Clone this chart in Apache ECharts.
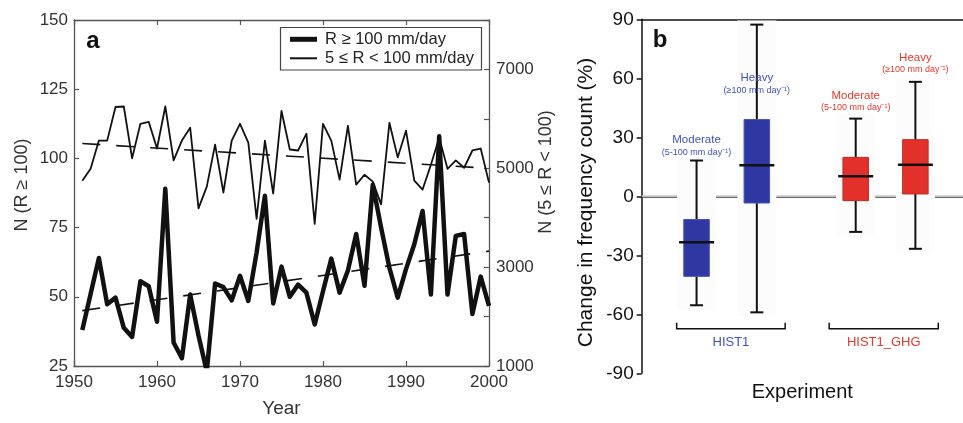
<!DOCTYPE html>
<html><head><meta charset="utf-8">
<script src="https://cdn.jsdelivr.net/npm/echarts@6/dist/echarts.min.js"></script>
<style>html,body{margin:0;padding:0;background:#fff}#c{width:963px;height:423px}</style>
</head><body><div id="c"></div>
<script>
// ---------- Panel a data ----------
const years = [1951,1952,1953,1954,1955,1956,1957,1958,1959,1960,
               1961,1962,1963,1964,1965,1966,1967,1968,1969,1970,
               1971,1972,1973,1974,1975,1976,1977,1978,1979,1980,
               1981,1982,1983,1984,1985,1986,1987,1988,1989,1990,
               1991,1992,1993,1994,1995,1996,1997,1998,1999,2000];
const heavyDays = [38,51,64,47.3,49.7,38.8,35.5,55.6,53.8,41,
                   89,33.5,27.8,50.8,36,23,54.8,53.5,48.7,57.6,
                   48.5,66,86.5,47.6,60.9,50,54.4,51.5,40,52,
                   63.8,51.5,59.5,72.7,54,90.5,75,60.5,49.7,60,
                   69,81,50.8,108,50.8,72,72.7,43.8,57.3,46.7];
const moderateDays = [4750,4990,5560,5560,6240,6250,5200,5900,5940,5400,
                      6250,5160,5560,5820,4190,4630,5480,4510,5560,5900,
                      5520,3975,5560,4490,6160,5380,5360,5700,3875,5900,
                      5560,4770,5860,4670,4870,4730,4270,5920,5220,5760,
                      4750,4570,5070,5620,4990,5160,5010,5360,5400,4710];
const trendYears = [1951, 2000];
const heavyTrend = [45, 66.5];
const moderateTrend = [5500, 5000];
const legendNames = ['R \u2265 100 mm/day', '5 \u2264 R < 100 mm/day'];

// ---------- Panel b data ----------
const boxNames = ['Moderate', 'Heavy', 'Moderate', 'Heavy'];
const boxRanges = ['(5-100 mm day\u207B\u00B9)', '(\u2265100 mm day\u207B\u00B9)', '(5-100 mm day\u207B\u00B9)', '(\u2265100 mm day\u207B\u00B9)'];
const boxGroup = [0, 0, 1, 1];
const boxPos = [0.91, 1.91, 3.55, 4.54];
const boxMin = [-55.4, -59, -18.1, -26.7];
const boxQ1 = [-40.7, -3.4, -2.2, 1.2];
const boxMedian = [-23.4, 15.8, 10.2, 16.1];
const boxQ3 = [-11.8, 39, 19.8, 28.8];
const boxMax = [18.2, 87.3, 39.5, 58.2];
const boxLabelAt = [22.4, 53.9, 45, 64.4];
const experiments = ['HIST1', 'HIST1_GHG'];
const bracketStart = [0.58, 3.11];
const bracketEnd = [2.38, 4.92];
const bracketLevel = [-67.4, -67.4];
const yTicksB = [-90, -60, -30, 0, 30, 60, 90];

// ---------- styles ----------
const FONT = "'Liberation Sans', Arial, Helvetica, sans-serif";
const boxFill = ['#2f37a2', '#e2302a'];
const boxStroke = ['#4450b8', '#c82820'];
const textCol = ['#3f52c2', '#e8372e'];
const GA = '#555';
const XB_MAX = 5.33;

const chart = echarts.init(document.getElementById('c'), null, {renderer: 'canvas'});

function renderBox(params, api) {
  const i = params.dataIndex;
  const g = boxGroup[i];
  const x = api.value(0);
  const c = v => api.coord([x, v]);
  const [cx, yMin] = c(api.value(1));
  const yQ1 = c(api.value(2))[1], yMed = c(api.value(3))[1], yQ3 = c(api.value(4))[1], yMax = c(api.value(5))[1];
  const yLab = c(api.value(6))[1];
  const bw = 25.5, cw = 13, mw = 35, bgw = 39;
  const ln = (x1, y1, x2, y2, w) => ({type: 'line', z2: 3, shape: {x1, y1, x2, y2}, style: {stroke: '#111', lineWidth: w}});
  return {type: 'group', children: [
    {type: 'rect', z2: 1, shape: {x: cx - bgw / 2, y: yMax - 4, width: bgw, height: yMin - yMax + 8}, style: {fill: '#fcfcfc'}},
    ln(cx, yMax, cx, yQ3, 2),
    ln(cx, yQ1, cx, yMin, 2),
    ln(cx - cw / 2, yMax, cx + cw / 2, yMax, 2),
    ln(cx - cw / 2, yMin, cx + cw / 2, yMin, 2),
    {type: 'rect', z2: 4, shape: {x: cx - bw / 2, y: yQ3, width: bw, height: yQ1 - yQ3}, style: {fill: boxFill[g], stroke: boxStroke[g], lineWidth: 1}},
    {type: 'line', z2: 5, shape: {x1: cx - mw / 2, y1: yMed, x2: cx + mw / 2, y2: yMed}, style: {stroke: '#111', lineWidth: 2.5}},
    {type: 'text', z2: 10, style: {text: boxNames[i], x: cx, y: yLab - 12, align: 'center', verticalAlign: 'middle', fill: textCol[g], fontSize: 11.5, fontFamily: FONT}},
    {type: 'text', z2: 10, style: {text: boxRanges[i], x: cx, y: yLab, align: 'center', verticalAlign: 'middle', fill: textCol[g], fontSize: 9, fontFamily: FONT}}
  ]};
}

function renderBracket(params, api) {
  const i = params.dataIndex;
  const [x0, y] = api.coord([api.value(0), api.value(2)]);
  const x1 = api.coord([api.value(1), api.value(2)])[0];
  return {type: 'group', children: [
    {type: 'polyline', shape: {points: [[x0, y - 6], [x0, y], [x1, y], [x1, y - 6]]}, style: {stroke: '#111', lineWidth: 1.5, fill: null}},
    {type: 'text', style: {text: experiments[i], x: (x0 + x1) / 2, y: y + 13.5, align: 'center', verticalAlign: 'middle', fill: textCol[i], fontSize: 13, fontFamily: FONT}}
  ]};
}

const option = {
  animation: false,
  backgroundColor: '#fff',
  textStyle: {fontFamily: FONT},
  grid: [
    {left: 74, top: 20, width: 415, height: 353},
    {left: 641.7, top: 19.3, right: 0, height: 354}
  ],
  xAxis: [
    {gridIndex: 0, type: 'value', min: 1950, max: 2000, interval: 10, position: 'bottom',
     axisLine: {show: true, lineStyle: {color: GA, width: 1.3}},
     axisTick: {show: true, inside: true, length: 5, lineStyle: {color: GA, width: 1.2}},
     axisLabel: {fontSize: 17, color: '#333', margin: 8, fontFamily: FONT, formatter: v => String(v)},
     splitLine: {show: false},
     name: 'Year', nameLocation: 'middle', nameGap: 33,
     nameTextStyle: {fontSize: 19, color: '#333', fontFamily: FONT}},
    {gridIndex: 0, type: 'value', min: 1950, max: 2000, interval: 10, position: 'top',
     axisLine: {show: true, lineStyle: {color: GA, width: 1.3}},
     axisTick: {show: true, inside: true, length: 5, lineStyle: {color: GA, width: 1.2}},
     axisLabel: {show: false}, splitLine: {show: false}},
    {gridIndex: 1, type: 'value', min: 0, max: XB_MAX, position: 'bottom',
     axisLine: {show: true, lineStyle: {color: '#111', width: 1.5}},
     axisTick: {show: false}, axisLabel: {show: false}, splitLine: {show: false},
     name: 'Experiment', nameLocation: 'middle', nameGap: 9,
     nameTextStyle: {fontSize: 20, color: '#111', fontFamily: FONT}},
    {gridIndex: 1, type: 'value', min: 0, max: XB_MAX, position: 'top',
     axisLine: {show: true, lineStyle: {color: '#111', width: 1.5}},
     axisTick: {show: false}, axisLabel: {show: false}, splitLine: {show: false}}
  ],
  yAxis: [
    {gridIndex: 0, type: 'value', min: 25, max: 150, interval: 25, position: 'left',
     axisLine: {show: true, lineStyle: {color: GA, width: 1.3}},
     axisTick: {show: true, inside: true, length: 5, lineStyle: {color: GA, width: 1.2}},
     axisLabel: {fontSize: 17, color: '#333', margin: 6, fontFamily: FONT},
     splitLine: {show: false}},
    {gridIndex: 0, type: 'value', min: 1000, max: 8000, interval: 1000, position: 'right',
     axisLine: {show: true, lineStyle: {color: GA, width: 1.3}},
     axisTick: {show: true, inside: true, length: 5, lineStyle: {color: GA, width: 1.2}},
     axisLabel: {fontSize: 17, color: '#333', margin: 7, fontFamily: FONT,
                 formatter: v => ((v / 1000) % 2 === 1 ? String(v) : '')},
     splitLine: {show: false}},
    {gridIndex: 1, type: 'value', min: yTicksB[0], max: yTicksB[yTicksB.length - 1], interval: 30, position: 'left',
     axisLine: {show: true, lineStyle: {color: '#111', width: 1.5}},
     axisTick: {show: true, inside: false, length: 5, lineStyle: {color: '#111', width: 1.5}},
     axisLabel: {fontSize: 19, color: '#111', margin: 8, fontFamily: FONT},
     splitLine: {show: false}}
  ],
  series: [
    {type: 'line', xAxisIndex: 0, yAxisIndex: 1, symbol: 'none', z: 3,
     data: years.map((y, i) => [y, moderateDays[i]]),
     lineStyle: {color: '#111', width: 1.8, join: 'round'}},
    {type: 'line', xAxisIndex: 0, yAxisIndex: 0, symbol: 'none', z: 4,
     data: years.map((y, i) => [y, heavyDays[i]]),
     lineStyle: {color: '#111', width: 4.5, join: 'round'}},
    {type: 'line', xAxisIndex: 0, yAxisIndex: 0, symbol: 'none', z: 5,
     data: trendYears.map((y, i) => [y, heavyTrend[i]]),
     lineStyle: {color: '#111', width: 1.6, type: [18, 16]}},
    {type: 'line', xAxisIndex: 0, yAxisIndex: 1, symbol: 'none', z: 5,
     data: trendYears.map((y, i) => [y, moderateTrend[i]]),
     lineStyle: {color: '#111', width: 1.6, type: [18, 16]}},
    {type: 'line', xAxisIndex: 2, yAxisIndex: 2, symbol: 'none', z: 1, silent: true,
     data: [[0, 0], [XB_MAX, 0]],
     lineStyle: {color: '#c4c4c4', width: 2}},
    {type: 'custom', xAxisIndex: 2, yAxisIndex: 2, z: 2, clip: false,
     renderItem: renderBox, encode: {x: 0, y: 1},
     data: boxPos.map((p, i) => [p, boxMin[i], boxQ1[i], boxMedian[i], boxQ3[i], boxMax[i], boxLabelAt[i]])},
    {type: 'custom', xAxisIndex: 2, yAxisIndex: 2, z: 2, clip: false,
     renderItem: renderBracket, encode: {x: 0, y: 2},
     data: bracketStart.map((s, i) => [s, bracketEnd[i], bracketLevel[i]])}
  ],
  graphic: [
    {type: 'text', x: 93, y: 41, z: 10, style: {text: 'a', font: 'bold 24px ' + FONT, align: 'center', verticalAlign: 'middle', fill: '#111'}},
    {type: 'text', x: 660, y: 40, z: 10, style: {text: 'b', font: 'bold 24px ' + FONT, align: 'center', verticalAlign: 'middle', fill: '#111'}},
    {type: 'text', x: 22, y: 185, rotation: Math.PI / 2, style: {text: 'N (R \u2265 100)', font: '18px ' + FONT, align: 'center', verticalAlign: 'middle', fill: '#333'}},
    {type: 'text', x: 546, y: 172, rotation: Math.PI / 2, style: {text: 'N (5 \u2264 R < 100)', font: '18px ' + FONT, align: 'center', verticalAlign: 'middle', fill: '#333'}},
    {type: 'text', x: 586.7, y: 202.5, rotation: Math.PI / 2, style: {text: 'Change in frequency count (%)', font: '21px ' + FONT, align: 'center', verticalAlign: 'middle', fill: '#111'}},
    {type: 'group', z: 10, children: [
      {type: 'rect', shape: {x: 280.5, y: 27.5, width: 201, height: 42.5}, style: {fill: '#fff', stroke: '#444', lineWidth: 1.2}},
      {type: 'line', shape: {x1: 290, y1: 39.3, x2: 317, y2: 39.3}, style: {stroke: '#111', lineWidth: 5}},
      {type: 'text', x: 325, y: 39.3, style: {text: legendNames[0], font: '16.5px ' + FONT, verticalAlign: 'middle', fill: '#222'}},
      {type: 'line', shape: {x1: 290, y1: 58.3, x2: 317, y2: 58.3}, style: {stroke: '#111', lineWidth: 2}},
      {type: 'text', x: 325, y: 58.3, style: {text: legendNames[1], font: '16.5px ' + FONT, verticalAlign: 'middle', fill: '#222'}}
    ]}
  ]
};
chart.setOption(option);
</script>
</body></html>
